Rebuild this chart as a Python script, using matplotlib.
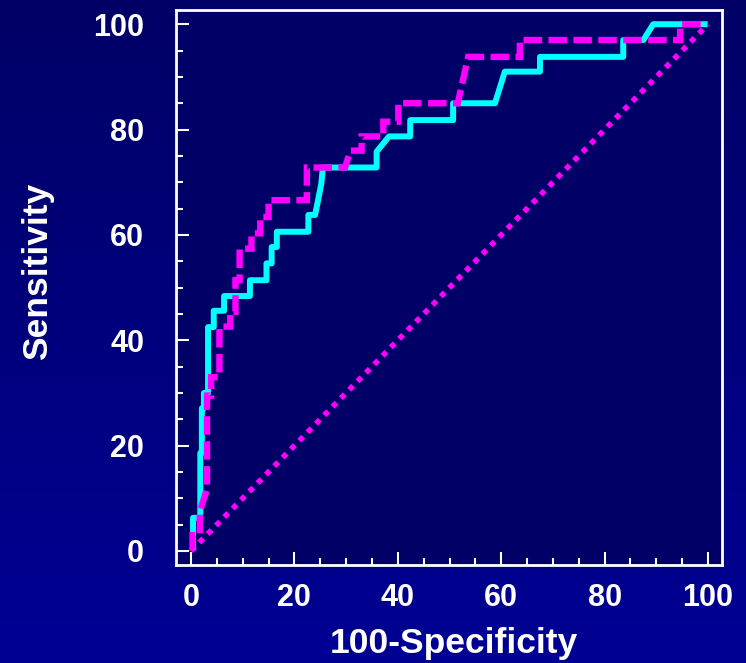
import numpy as np
import matplotlib
matplotlib.use("Agg")
import matplotlib.pyplot as plt
from matplotlib.ticker import MultipleLocator

plt.rcParams['font.family'] = ['Liberation Sans', 'DejaVu Sans']
plt.rcParams['font.weight'] = 'bold'

# ROC curve 1 (cyan, solid): 100-Specificity, Sensitivity
cyan_x = [0.4, 0.4, 1.8, 1.8, 2.1, 2.1, 2.5, 2.5, 3.3, 3.3, 4.4, 4.4, 6.4, 6.4,
          11.4, 11.4, 14.6, 14.6, 15.6, 15.6, 16.6, 16.6, 22.7, 22.7, 24.0,
          24.6, 25.2, 25.5, 35.9, 35.9, 38.3, 42.4, 42.4, 50.7, 50.7, 58.8,
          60.7, 67.5, 67.5, 83.6, 83.6, 87.5, 89.4, 100.0]
cyan_y = [0.0, 6.3, 6.3, 18.6, 18.6, 27.1, 27.1, 30.0, 30.0, 42.5, 42.5, 45.6,
          45.6, 48.4, 48.4, 51.4, 51.4, 54.6, 54.6, 57.7, 57.7, 60.6, 60.6,
          63.8, 63.8, 66.7, 69.7, 72.8, 72.8, 75.8, 78.7, 78.7, 81.8, 81.8,
          85.0, 85.0, 91.0, 91.0, 93.8, 93.8, 97.0, 97.0, 100.0, 100.0]

# ROC curve 2 (magenta, dashed)
mag_x = [0.3, 0.3, 1.7, 1.7, 3.1, 3.1, 3.9, 3.9, 5.5, 5.5, 7.6, 7.6, 8.6, 8.6,
         9.4, 9.4, 11.7, 11.7, 13.4, 13.4, 15.0, 15.0, 22.4, 22.4, 29.8, 30.8,
         33.0, 33.0, 37.2, 37.2, 40.1, 40.1, 51.6, 53.6, 63.6, 63.6, 94.6,
         94.6, 100.0]
mag_y = [0.0, 3.0, 3.0, 7.5, 11.8, 29.5, 29.5, 33.0, 33.0, 42.6, 42.6, 45.4,
         45.4, 51.4, 51.4, 57.4, 57.4, 60.3, 60.3, 63.4, 63.4, 66.6, 66.6,
         72.8, 72.8, 76.0, 76.0, 78.7, 78.7, 81.5, 81.5, 85.0, 85.0, 93.8,
         93.8, 97.0, 97.0, 100.0, 100.0]

# Reference diagonal
diag_x = [0, 100]
diag_y = [0, 100]

tick_vals = [0, 20, 40, 60, 80, 100]

W, H = 746, 663
fig = plt.figure(figsize=(W / 100, H / 100), dpi=100)

# gradient background
bg = fig.add_axes([0, 0, 1, 1], zorder=-10)
grad = np.linspace(0, 1, 256).reshape(-1, 1)
top = np.array([0.0, 0.0, 0.40])
bot = np.array([0.0, 0.0, 0.58])
img = top[None, None, :] * (1 - grad[:, :, None]) + bot[None, None, :] * grad[:, :, None]
bg.imshow(img, aspect='auto', extent=[0, 1, 0, 1], origin='upper')
bg.set_axis_off()

left, right, bottom, topp = 176, 722, 565, 10
ax = fig.add_axes([left / W, 1 - bottom / H, (right - left) / W, (bottom - topp) / H])
ax.set_facecolor('#000066')

ax.plot(diag_x, diag_y, color='#FF00FF', lw=4.0, linestyle=(0, (1, 1.14)),
        dash_capstyle='butt', zorder=2)
ax.plot(cyan_x, cyan_y, color='#00FFFF', lw=4.3, solid_joinstyle='round',
        solid_capstyle='butt', zorder=3)
ax.plot(mag_x, mag_y, color='#FF00FF', lw=4.6, linestyle=(0, (2.9, 1.0)),
        dash_capstyle='butt', dash_joinstyle='miter', zorder=4)

ax.set_xlim(-2.9, 102.7)
ax.set_ylim(-2.66, 102.7)
ax.xaxis.set_minor_locator(MultipleLocator(5))
ax.yaxis.set_minor_locator(MultipleLocator(5))
ax.set_xticks(tick_vals)
ax.set_yticks(tick_vals)
ax.set_xticklabels([str(v) for v in tick_vals])
ax.set_yticklabels([str(v) for v in tick_vals])

for s in ax.spines.values():
    s.set_color('white')
    s.set_linewidth(2.0)

ax.tick_params(which='both', direction='in', colors='white', width=1.5,
               labelsize=22)
ax.tick_params(which='major', length=9.5)
ax.tick_params(which='minor', length=5)
ax.tick_params(axis='y', pad=23)
ax.tick_params(axis='x', pad=13)
for lab in ax.get_xticklabels() + ax.get_yticklabels():
    lab.set_fontweight('bold')
    lab.set_color('white')

fig.text(37.5 / W, 1 - 271.7 / H, 'Sensitivity', rotation=90, ha='center',
         va='center', color='white', fontsize=25.5, fontweight='bold')
fig.text(453.5 / W, 1 - 653 / H, '100-Specificity', ha='center',
         va='baseline', color='white', fontsize=25.5, fontweight='bold')

fig.savefig('out.png', dpi=100)
